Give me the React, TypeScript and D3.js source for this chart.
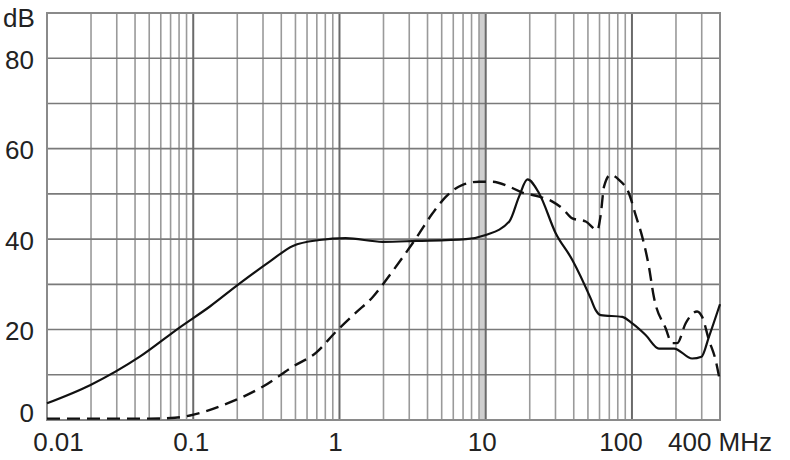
import React from 'react';
import * as d3 from 'd3';

const xTickValues = [0.01, 0.1, 1, 10, 100, 400];
const xTickLabels = ['0.01', '0.1', '1', '10', '100', '400'];
const yTickValues = [0, 20, 40, 60, 80];
const yGridValues = [10, 20, 30, 40, 50, 60, 70, 80];

const solidFreq = [0.01, 0.0197, 0.0431, 0.081, 0.13, 0.208, 0.333, 0.48, 0.73, 1.1, 1.975, 3.34, 7.33, 10, 14.5, 16.9, 19.3, 23.2, 30.1, 39.1, 52.2, 56.5, 61.1, 85.9, 100, 124, 153, 194, 258, 299, 336, 400];
const solidDb = [3.7, 7.7, 14, 20.5, 25.1, 30.2, 35, 38.5, 39.8, 40.2, 39.4, 39.6, 40, 40.9, 43.9, 49.4, 53.2, 50.1, 41.3, 35.4, 26.9, 24.3, 23.2, 22.8, 21.4, 18.8, 15.8, 15.8, 13.6, 14, 18.4, 25.6];

const dashedFreq = [0.01, 0.05, 0.075, 0.095, 0.16, 0.3, 0.48, 0.693, 0.95, 1.3, 1.69, 2.19, 3.34, 4.33, 5.35, 6.95, 9.03, 11.1, 14.5, 17.8, 23.2, 28.6, 33.4, 39.1, 48.3, 58, 61.1, 64.4, 71.3, 81.5, 95.4, 106, 117.6, 130.6, 141, 170, 188, 204, 233, 279, 302, 336, 373, 400];
const dashedDb = [0.3, 0.3, 0.5, 1.0, 3.3, 7.4, 11.8, 14.9, 19.6, 23.8, 27.2, 31.9, 40.2, 45.7, 49.4, 52, 52.7, 52.7, 51.6, 50.3, 49.4, 48.3, 46.8, 44.6, 43.9, 42, 45.3, 51.6, 54.2, 53.1, 50.1, 45.3, 40.5, 33.9, 27.3, 20.3, 17, 17, 21.4, 24, 22.8, 17.7, 13.3, 8.5];

export default function App() {
  const W = 790, H = 460;
  const left = 47, right = 720, top = 13, bottom = 420;
  const x = d3.scaleLog().domain([0.01, 400]).range([left, right]);
  const y = d3.scaleLinear().domain([0, 90]).range([bottom, top]);

  const decades = [0.01, 0.1, 1, 10, 100];
  const minor: number[] = [];
  decades.forEach((d) => {
    for (let k = 2; k <= 9; k++) {
      const v = d * k;
      if (v < 400) minor.push(v);
    }
  });

  const line = d3.line<[number, number]>()
    .x((d) => x(d[0]))
    .y((d) => y(d[1]))
    .curve(d3.curveMonotoneX);

  const solid = line(solidFreq.map((f, i) => [f, solidDb[i]]) as [number, number][]) || '';
  const dashed = line(dashedFreq.map((f, i) => [f, dashedDb[i]]) as [number, number][]) || '';

  const xLabelOffset = [11.5, -2, -4, -3.5, -11, 0];
  const font = "'Liberation Sans', Arial, sans-serif";

  return (
    <svg width={W} height={H} style={{ position: 'absolute', left: 0, top: 0, background: '#fff' }}>
      <rect x={0} y={0} width={W} height={H} fill="#fff" />
      {/* band near 10 */}
      <rect x={x(9)} y={top} width={x(10) - x(9)} height={bottom - top} fill="#cfcfcf" />
      {/* minor vertical grid */}
      {minor.map((v, i) => (
        <line key={'m' + i} x1={x(v)} x2={x(v)} y1={top} y2={bottom} stroke="#9a9a9a" strokeWidth={1.6} />
      ))}
      {/* horizontal grid */}
      {yGridValues.map((v) => (
        <line key={'h' + v} x1={left} x2={right} y1={y(v)} y2={y(v)} stroke="#7a7a7a" strokeWidth={1.6} />
      ))}
      {/* decade lines */}
      {decades.slice(1).map((v) => (
        <line key={'d' + v} x1={x(v)} x2={x(v)} y1={top} y2={bottom} stroke="#6a6a6a" strokeWidth={2} />
      ))}
      {/* frame */}
      <rect x={left} y={top} width={right - left} height={bottom - top} fill="none" stroke="#8a8a8a" strokeWidth={2} />

      {/* curves */}
      <path d={solid} fill="none" stroke="#111" strokeWidth={2.2} strokeLinejoin="round" />
      <path d={dashed} fill="none" stroke="#111" strokeWidth={2.4} strokeDasharray="13 7" />

      {/* y labels */}
      {yTickValues.map((v) => (
        <text key={'yl' + v} x={34} y={v === 0 ? y(v) + 2 : y(v) + 10.5} textAnchor="end" fontFamily={font} fontSize={26} fill="#222">
          {v}
        </text>
      ))}
      <text x={3} y={27} fontFamily={font} fontSize={26} fill="#222">dB</text>

      {/* x labels */}
      {xTickValues.map((v, i) =>
        i === xTickValues.length - 1 ? (
          <text key={'xl' + v} x={x(v) - 52} y={451} textAnchor="start" fontFamily={font} fontSize={26} fill="#222">
            {xTickLabels[i] + ' MHz'}
          </text>
        ) : (
          <text key={'xl' + v} x={x(v) + xLabelOffset[i]} y={451} textAnchor="middle" fontFamily={font} fontSize={26} fill="#222">
            {xTickLabels[i]}
          </text>
        )
      )}
    </svg>
  );
}
